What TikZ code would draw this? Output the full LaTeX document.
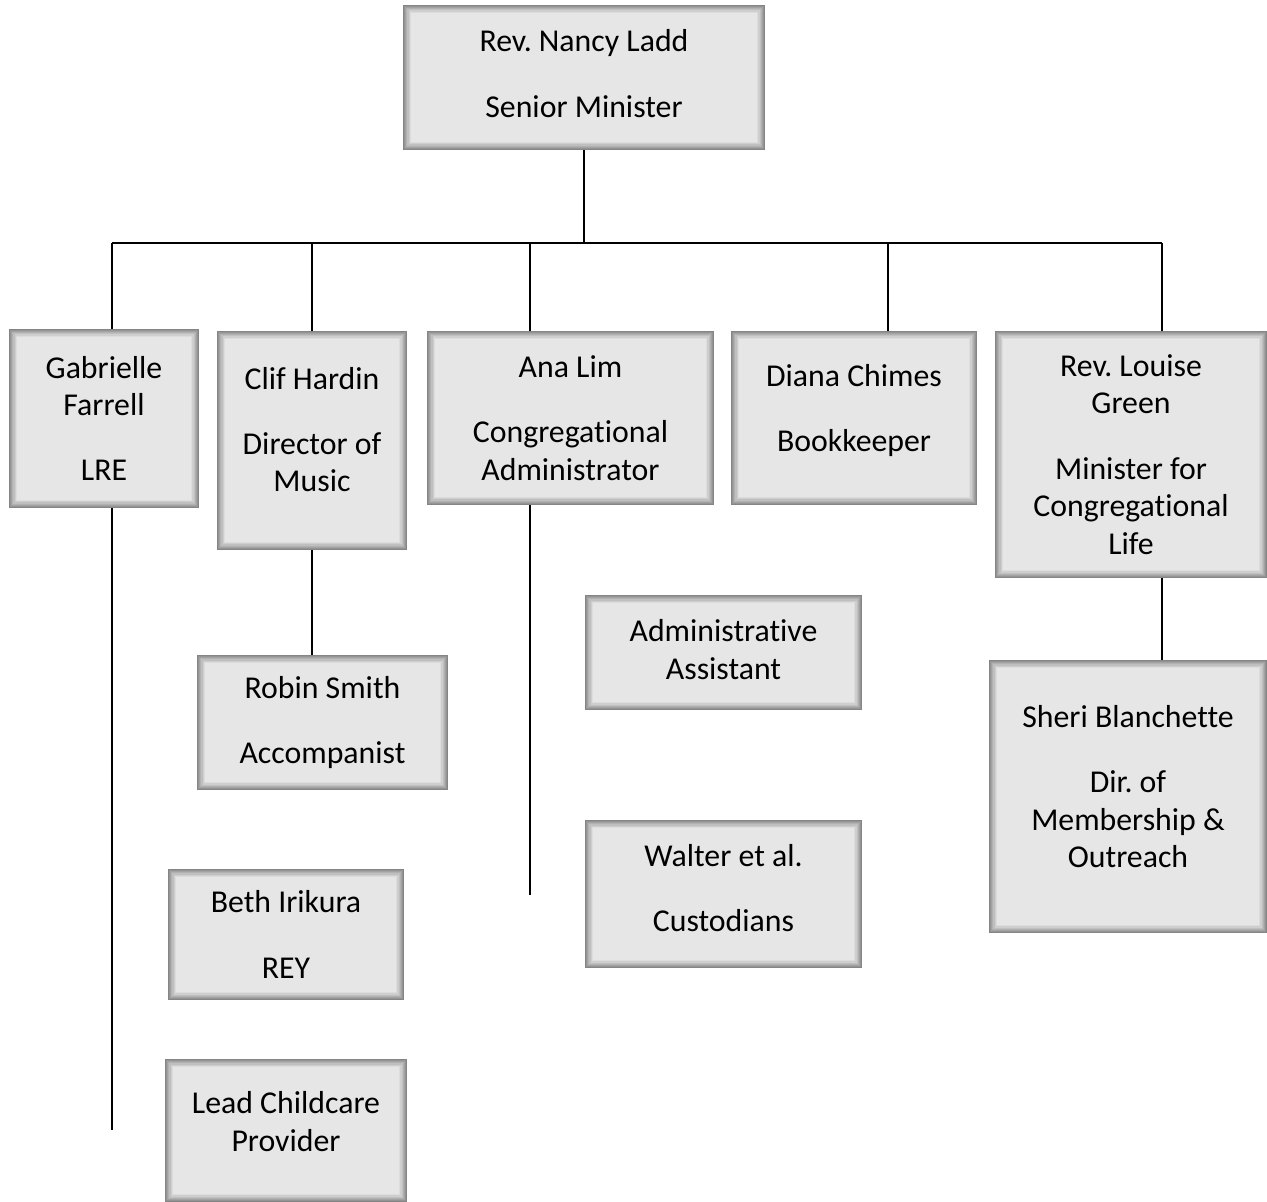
\documentclass[tikz,border=0pt]{standalone}
\usepackage{fontspec}
\setmainfont{Carlito}[Ligatures=NoCommon]
\frenchspacing
\definecolor{boxgray}{HTML}{E6E6E6}
\definecolor{rimgray}{HTML}{858585}
\newcommand{\lowpad}[1]{\rule[-#1pt]{0pt}{0pt}}

\tikzset{
  staffbox/.style={rectangle, fill=boxgray, align=center, inner sep=0pt,
    font=\fontsize{15.9}{18.7}\selectfont,
    path picture={
      \foreach \k in {0,...,6}{
        \pgfmathsetmacro\rimoff{0.3+0.55*\k}
        \pgfmathsetmacro\rimmix{100-15*\k}
        \draw[draw=rimgray!\rimmix!boxgray, line width=0.6pt]
          ([shift={(\rimoff pt,\rimoff pt)}]path picture bounding box.south west)
          rectangle ([shift={(-\rimoff pt,-\rimoff pt)}]path picture bounding box.north east);
      }
    }},
  link/.style={draw=black, line width=0.9pt}
}

\begin{document}
\begin{tikzpicture}[x=0.5pt, y=-0.5pt]
   \useasboundingbox (0,0) rectangle (1267,1202);

   % boxes
   \node[staffbox, minimum width=181pt, minimum height=72.5pt] (nancy) at (584,77.5)
      {Rev. Nancy Ladd\\[14pt]Senior Minister\lowpad{4}};
   \node[staffbox, minimum width=95pt, minimum height=89.5pt] (gab) at (104,418.5)
      {Gabrielle\\Farrell\\[14pt]LRE};
   \node[staffbox, minimum width=95pt, minimum height=109.5pt] (clif) at (312,440.5)
      {Clif Hardin\\[14pt]Director of\\Music\lowpad{11}};
   \node[staffbox, minimum width=143.5pt, minimum height=87pt] (ana) at (570.5,418)
      {Ana Lim\\[14pt]Congregational\\Administrator};
   \node[staffbox, minimum width=123pt, minimum height=87pt] (diana) at (854,418)
      {Diana Chimes\\[14pt]Bookkeeper\lowpad{10}};
   \node[staffbox, minimum width=136pt, minimum height=123.5pt] (louise) at (1131,454.5)
      {Rev. Louise\\Green\\[14pt]Minister for\\Congregational\\Life};
   \node[staffbox, minimum width=125.5pt, minimum height=67.5pt] (robin) at (322.5,722.5)
      {Robin Smith\\[14pt]Accompanist};
   \node[staffbox, minimum width=138.5pt, minimum height=57.5pt] (admin) at (723.5,652.5)
      {Administrative\\Assistant\lowpad{3}};
   \node[staffbox, minimum width=139pt, minimum height=136.5pt] (sheri) at (1128,796.5)
      {Sheri Blanchette\\[14pt]Dir. of\\Membership \&\\Outreach\lowpad{10}};
   \node[staffbox, minimum width=118pt, minimum height=65.5pt] (beth) at (286,934.5)
      {Beth Irikura\\[14pt]REY};
   \node[staffbox, minimum width=138.5pt, minimum height=74pt] (walter) at (723.5,894)
      {Walter et al.\\[14pt]Custodians\lowpad{6}};
   \node[staffbox, minimum width=121pt, minimum height=71.5pt] (lead) at (286,1130.5)
      {Lead Childcare\\Provider\lowpad{9}};

   % bus
   \coordinate (busL) at (112,243);
   \coordinate (busR) at (1162,243);
   \coordinate (anaDrop) at (530,243);
   \coordinate (dianaDrop) at (888,243);
   \coordinate (gabEnd) at (112,1130);
   \coordinate (anaEnd) at (530,895);

   \draw[link] (nancy.south) -- (nancy.south |- busL);
   \draw[link] (busL) -- (busR);
   \draw[link] (busL) -- (busL |- gab.north);
   \draw[link] (clif.north |- busL) -- (clif.north);
   \draw[link] (anaDrop) -- (anaDrop |- ana.north);
   \draw[link] (dianaDrop) -- (dianaDrop |- diana.north);
   \draw[link] (busR) -- (busR |- louise.north);

   \draw[link] (gabEnd |- gab.south) -- (gabEnd);
   \draw[link] (clif.south) -- (clif.south |- robin.north);
   \draw[link] (anaEnd |- ana.south) -- (anaEnd);
   \draw[link] (busR |- louise.south) -- (busR |- sheri.north);
\end{tikzpicture}
\end{document}
